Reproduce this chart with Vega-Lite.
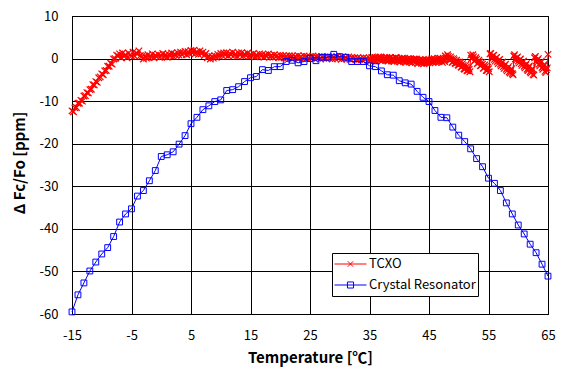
{
  "$schema": "https://vega.github.io/schema/vega-lite/v6.json",
  "width": 476,
  "height": 298,
  "autosize": "none",
  "padding": {"left": 72, "top": 16, "right": 19, "bottom": 63},
  "background": "white",
  "config": {
    "font": "Noto Sans CJK KR",
    "view": {"stroke": "#000000", "strokeWidth": 1},
    "axis": {
      "grid": true, "gridColor": "#000000", "gridOpacity": 1, "gridWidth": 1,
      "domainColor": "#000000", "domainWidth": 1, "ticks": false, "tickSize": 0,
      "labelColor": "#000000", "labelFontSize": 13, "labelFont": "Noto Sans CJK KR",
      "labelExpr": "datum.value < 0 ? '-' + abs(datum.value) : '' + datum.value",
      "titleColor": "#000000", "titleFontSize": 15, "titleFontWeight": "bold", "titleFont": "Noto Sans CJK KR"
    }
  },
  "datasets": {
    "tcxo": [
      {"t":-15,"v":-12.3},{"t":-14.75,"v":-12.5},{"t":-14.5,"v":-11.6},{"t":-14.25,"v":-11.5},{"t":-14,"v":-10.5},{"t":-13.75,"v":-10.5},{"t":-13.5,"v":-9.8},{"t":-13.25,"v":-10.0},{"t":-13,"v":-8.8},{"t":-12.75,"v":-8.7},{"t":-12.5,"v":-8.0},{"t":-12.25,"v":-8.1},{"t":-12,"v":-7.3},{"t":-11.75,"v":-7.2},{"t":-11.5,"v":-6.1},{"t":-11.25,"v":-6.2},{"t":-11,"v":-5.4},{"t":-10.75,"v":-5.6},{"t":-10.5,"v":-4.5},{"t":-10.25,"v":-4.3},{"t":-10,"v":-3.6},{"t":-9.75,"v":-3.8},{"t":-9.5,"v":-2.9},{"t":-9.25,"v":-2.8},{"t":-9,"v":-1.8},{"t":-8.75,"v":-1.8},{"t":-8.5,"v":-1.1},{"t":-8.25,"v":-1.3},{"t":-8,"v":-0.1},{"t":-7.75,"v":0.0},{"t":-7.5,"v":0.8},{"t":-7.25,"v":0.6},
      {"t":-7,"v":1.1},{"t":-6.75,"v":0.2},{"t":-6.5,"v":1.3},{"t":-6.25,"v":0.5},{"t":-6,"v":0.9},{"t":-5.75,"v":0.2},{"t":-5.5,"v":1.3},{"t":-5.25,"v":0.8},{"t":-5,"v":0.6},{"t":-4.75,"v":1.5},{"t":-4.5,"v":0.6},{"t":-4.25,"v":1.3},{"t":-4,"v":1.1},{"t":-3.75,"v":1.8},{"t":-3.5,"v":0.7},{"t":-3.25,"v":0.5},
      {"t":-3,"v":-0.1},{"t":-2.75,"v":0.6},{"t":-2.5,"v":0.1},{"t":-2.25,"v":0.9},{"t":-2,"v":0.3},{"t":-1.75,"v":0.5},{"t":-1.5,"v":1.1},{"t":-1.25,"v":0.2},{"t":-1,"v":0.8},{"t":-0.75,"v":0.4},{"t":-0.5,"v":1.0},{"t":-0.25,"v":0.3},
      {"t":0,"v":0.7},{"t":0.25,"v":1.2},{"t":0.5,"v":0.4},{"t":0.75,"v":0.9},{"t":1,"v":0.3},{"t":1.25,"v":1.0},{"t":1.5,"v":0.6},{"t":1.75,"v":1.3},{"t":2,"v":0.5},{"t":2.25,"v":1.1},{"t":2.5,"v":0.7},{"t":2.75,"v":1.4},{"t":3,"v":0.8},{"t":3.25,"v":1.5},{"t":3.5,"v":0.9},{"t":3.75,"v":1.3},
      {"t":4,"v":1.7},{"t":4.25,"v":0.9},{"t":4.5,"v":1.6},{"t":4.75,"v":1.1},{"t":5,"v":1.9},{"t":5.25,"v":1.3},{"t":5.5,"v":2.0},{"t":5.75,"v":1.2},{"t":6,"v":1.6},{"t":6.25,"v":1.0},{"t":6.5,"v":1.8},{"t":6.75,"v":1.1},{"t":7,"v":1.5},{"t":7.25,"v":0.7},{"t":7.5,"v":1.2},{"t":7.75,"v":0.2},
      {"t":8,"v":0.6},{"t":8.25,"v":-0.1},{"t":8.5,"v":0.5},{"t":8.75,"v":0.1},{"t":9,"v":0.7},{"t":9.25,"v":0.3},{"t":9.5,"v":1.0},{"t":9.75,"v":0.5},{"t":10,"v":1.2},{"t":10.25,"v":0.7},{"t":10.5,"v":1.3},{"t":10.75,"v":0.8},{"t":11,"v":1.4},{"t":11.25,"v":0.6},{"t":11.5,"v":1.2},{"t":11.75,"v":0.9},
      {"t":12,"v":1.5},{"t":12.25,"v":0.7},{"t":12.5,"v":1.1},{"t":12.75,"v":0.5},{"t":13,"v":1.3},{"t":13.25,"v":0.8},{"t":13.5,"v":1.4},{"t":13.75,"v":0.6},{"t":14,"v":1.1},{"t":14.25,"v":0.7},{"t":14.5,"v":1.3},{"t":14.75,"v":0.5},{"t":15,"v":1.0},{"t":15.25,"v":0.6},{"t":15.5,"v":1.2},{"t":15.75,"v":0.4},
      {"t":16,"v":0.9},{"t":16.25,"v":0.5},{"t":16.5,"v":1.1},{"t":16.75,"v":0.6},{"t":17,"v":1.0},{"t":17.25,"v":0.3},{"t":17.5,"v":0.9},{"t":17.75,"v":0.5},{"t":18,"v":1.1},{"t":18.25,"v":0.4},{"t":18.5,"v":0.8},{"t":18.75,"v":0.3},{"t":19,"v":0.9},{"t":19.25,"v":0.4},{"t":19.5,"v":0.7},{"t":19.75,"v":0.2},
      {"t":20,"v":0.8},{"t":20.25,"v":0.3},{"t":20.5,"v":0.7},{"t":20.75,"v":0.2},{"t":21,"v":0.6},{"t":21.25,"v":0.1},{"t":21.5,"v":0.7},{"t":21.75,"v":0.3},{"t":22,"v":0.6},{"t":22.25,"v":0.1},{"t":22.5,"v":0.5},{"t":22.75,"v":0.2},{"t":23,"v":0.7},{"t":23.25,"v":0.1},{"t":23.5,"v":0.5},{"t":23.75,"v":0.0},
      {"t":24,"v":0.6},{"t":24.25,"v":0.2},{"t":24.5,"v":0.5},{"t":24.75,"v":0.0},{"t":25,"v":0.4},{"t":25.25,"v":0.1},{"t":25.5,"v":0.6},{"t":25.75,"v":0.0},{"t":26,"v":0.5},{"t":26.25,"v":0.2},{"t":26.5,"v":0.4},{"t":26.75,"v":-0.1},{"t":27,"v":0.5},{"t":27.25,"v":0.1},{"t":27.5,"v":0.4},{"t":27.75,"v":0.0},
      {"t":28,"v":0.5},{"t":28.25,"v":0.1},{"t":28.5,"v":0.3},{"t":28.75,"v":-0.1},{"t":29,"v":0.4},{"t":29.25,"v":0.0},{"t":29.5,"v":0.5},{"t":29.75,"v":0.1},{"t":30,"v":0.3},{"t":30.25,"v":-0.2},{"t":30.5,"v":0.4},{"t":30.75,"v":0.0},{"t":31,"v":0.3},{"t":31.25,"v":-0.1},{"t":31.5,"v":0.4},{"t":31.75,"v":-0.2},
      {"t":32,"v":0.3},{"t":32.25,"v":0.0},{"t":32.5,"v":0.2},{"t":32.75,"v":-0.3},{"t":33,"v":0.2},{"t":33.25,"v":-0.2},{"t":33.5,"v":0.1},{"t":33.75,"v":-0.3},{"t":34,"v":0.2},{"t":34.25,"v":-0.2},{"t":34.5,"v":0.1},{"t":34.75,"v":-0.4},{"t":35,"v":0.1},{"t":35.25,"v":-0.3},{"t":35.5,"v":0.0},{"t":35.75,"v":-0.5},
      {"t":36,"v":0.3},{"t":36.25,"v":-0.2},{"t":36.5,"v":0.4},{"t":36.75,"v":-0.4},{"t":37,"v":0.2},{"t":37.25,"v":-0.3},{"t":37.5,"v":0.3},{"t":37.75,"v":-0.5},{"t":38,"v":0.1},{"t":38.25,"v":-0.4},{"t":38.5,"v":0.2},{"t":38.75,"v":-0.6},{"t":39,"v":0.0},{"t":39.25,"v":-0.3},{"t":39.5,"v":0.2},{"t":39.75,"v":-0.6},
      {"t":40,"v":-0.1},{"t":40.25,"v":-0.5},{"t":40.5,"v":0.1},{"t":40.75,"v":-0.7},{"t":41,"v":-0.2},{"t":41.25,"v":-0.6},{"t":41.5,"v":0.0},{"t":41.75,"v":-0.8},{"t":42,"v":-0.2},{"t":42.25,"v":-0.5},{"t":42.5,"v":-0.1},{"t":42.75,"v":-0.9},{"t":43,"v":-0.3},{"t":43.25,"v":-0.8},{"t":43.5,"v":-0.2},{"t":43.75,"v":-1.1},
      {"t":44,"v":-0.5},{"t":44.25,"v":-1.0},{"t":44.5,"v":-0.3},{"t":44.75,"v":-0.9},{"t":45,"v":-0.2},{"t":45.25,"v":-0.7},{"t":45.5,"v":0.0},{"t":45.75,"v":-0.8},{"t":46,"v":-0.3},{"t":46.25,"v":-0.6},{"t":46.5,"v":0.1},{"t":46.75,"v":-0.5},{"t":47,"v":-0.2},{"t":47.25,"v":-0.9},{"t":47.5,"v":-0.1},{"t":47.75,"v":0.6},
      {"t":48,"v":0.1},{"t":48.25,"v":0.5},{"t":48.5,"v":-0.4},{"t":48.75,"v":0.0},{"t":49,"v":-0.8},{"t":49.25,"v":-0.3},{"t":49.5,"v":-1.2},{"t":49.75,"v":-0.8},{"t":50,"v":-1.6},{"t":50.25,"v":-1.1},{"t":50.5,"v":-2.0},{"t":50.75,"v":-1.6},{"t":51,"v":-2.5},{"t":51.25,"v":-2.0},{"t":51.5,"v":-2.9},{"t":51.75,"v":-2.5},
      {"t":52,"v":0.8},{"t":52.25,"v":0.2},{"t":52.5,"v":0.4},{"t":52.75,"v":-0.4},{"t":53,"v":-0.2},{"t":53.25,"v":-1.0},{"t":53.5,"v":-0.8},{"t":53.75,"v":-1.6},{"t":54,"v":-1.3},{"t":54.25,"v":-2.2},{"t":54.5,"v":-1.9},{"t":54.75,"v":-2.8},{"t":55,"v":-2.4},
      {"t":55.25,"v":1.1},{"t":55.5,"v":0.4},{"t":55.75,"v":0.6},{"t":56,"v":-0.2},{"t":56.25,"v":0.1},{"t":56.5,"v":-0.7},{"t":56.75,"v":-0.4},{"t":57,"v":-1.3},{"t":57.25,"v":-1.0},{"t":57.5,"v":-1.9},{"t":57.75,"v":-1.6},{"t":58,"v":-2.5},{"t":58.25,"v":-2.2},{"t":58.5,"v":-3.1},{"t":58.75,"v":-2.7},{"t":59,"v":-3.5},
      {"t":59.25,"v":0.6},{"t":59.5,"v":-0.1},{"t":59.75,"v":0.2},{"t":60,"v":-0.6},{"t":60.25,"v":-0.3},{"t":60.5,"v":-1.2},{"t":60.75,"v":-0.9},{"t":61,"v":-1.8},{"t":61.25,"v":-1.5},{"t":61.5,"v":-2.5},{"t":61.75,"v":-2.1},{"t":62,"v":-3.1},{"t":62.25,"v":-2.7},{"t":62.5,"v":-3.7},
      {"t":62.75,"v":0.2},{"t":63,"v":-0.6},{"t":63.25,"v":-0.3},{"t":63.5,"v":-1.3},{"t":63.75,"v":-1.0},{"t":64,"v":-2.1},{"t":64.25,"v":-1.8},{"t":64.5,"v":-3.0},{"t":64.75,"v":-2.6},{"t":65,"v":1.0},
      {"t":35.125,"v":-0.5},{"t":35.375,"v":0.3},{"t":35.625,"v":-0.3},{"t":35.875,"v":0.2},{"t":36.125,"v":-0.6},{"t":36.375,"v":0.1},{"t":36.625,"v":-0.1},{"t":36.875,"v":0.4},{"t":37.125,"v":-0.5},{"t":37.375,"v":0.0},{"t":37.625,"v":-0.2},{"t":37.875,"v":0.3},{"t":38.125,"v":-0.6},{"t":38.375,"v":0.2},{"t":38.625,"v":-0.3},{"t":38.875,"v":0.1},{"t":39.125,"v":-0.7},{"t":39.375,"v":0.3},{"t":39.625,"v":-0.4},{"t":39.875,"v":0.0},
      {"t":40.125,"v":-0.8},{"t":40.375,"v":0.0},{"t":40.625,"v":-0.5},{"t":40.875,"v":0.1},{"t":41.125,"v":-0.9},{"t":41.375,"v":-0.1},{"t":41.625,"v":-0.6},{"t":41.875,"v":0.0},{"t":42.125,"v":-1.0},{"t":42.375,"v":-0.2},{"t":42.625,"v":-0.6},{"t":42.875,"v":-0.1},{"t":43.125,"v":-1.2},{"t":43.375,"v":-0.4},{"t":43.625,"v":-0.9},{"t":43.875,"v":-0.3},
      {"t":44.125,"v":-1.2},{"t":44.375,"v":-0.6},{"t":44.625,"v":-1.1},{"t":44.875,"v":-0.4},{"t":45.125,"v":-1.0},{"t":45.375,"v":-0.3},{"t":45.625,"v":-0.9},{"t":45.875,"v":0.0},{"t":46.125,"v":-0.9},{"t":46.375,"v":-0.2},{"t":46.625,"v":-0.7},{"t":46.875,"v":0.1},{"t":47.125,"v":-0.6},{"t":47.375,"v":-0.3},{"t":47.625,"v":-0.7},
      {"t":47.875,"v":-0.1},{"t":48.125,"v":0.9},{"t":48.375,"v":-0.2},{"t":48.625,"v":0.4},{"t":48.875,"v":-0.9},{"t":49.125,"v":0.0},{"t":49.375,"v":-1.1},{"t":49.625,"v":-0.4},{"t":49.875,"v":-1.5},{"t":50.125,"v":-0.8},{"t":50.375,"v":-2.0},{"t":50.625,"v":-1.2},{"t":50.875,"v":-2.4},{"t":51.125,"v":-1.6},{"t":51.375,"v":-2.8},{"t":51.625,"v":-2.1},{"t":51.875,"v":-3.1},
      {"t":52.125,"v":0.0},{"t":52.375,"v":0.9},{"t":52.625,"v":-0.6},{"t":52.875,"v":0.2},{"t":53.125,"v":-1.2},{"t":53.375,"v":-0.4},{"t":53.625,"v":-1.7},{"t":53.875,"v":-0.9},{"t":54.125,"v":-2.3},{"t":54.375,"v":-1.5},{"t":54.625,"v":-2.8},{"t":54.875,"v":-2.0},{"t":55.125,"v":-3.1},
      {"t":55.375,"v":1.2},{"t":55.625,"v":0.0},{"t":55.875,"v":0.8},{"t":56.125,"v":-0.6},{"t":56.375,"v":0.3},{"t":56.625,"v":-1.2},{"t":56.875,"v":-0.2},{"t":57.125,"v":-1.7},{"t":57.375,"v":-0.8},{"t":57.625,"v":-2.3},{"t":57.875,"v":-1.3},{"t":58.125,"v":-2.9},{"t":58.375,"v":-1.9},{"t":58.625,"v":-3.4},{"t":58.875,"v":-2.4},{"t":59.125,"v":-3.8},
      {"t":59.375,"v":0.9},{"t":59.625,"v":-0.5},{"t":59.875,"v":0.4},{"t":60.125,"v":-1.0},{"t":60.375,"v":-0.1},{"t":60.625,"v":-1.6},{"t":60.875,"v":-0.6},{"t":61.125,"v":-2.2},{"t":61.375,"v":-1.2},{"t":61.625,"v":-2.8},{"t":61.875,"v":-1.7},{"t":62.125,"v":-3.4},{"t":62.375,"v":-2.4},{"t":62.625,"v":-3.9},
      {"t":62.875,"v":0.5},{"t":63.125,"v":-1.0},{"t":63.375,"v":0.0},{"t":63.625,"v":-1.7},{"t":63.875,"v":-0.6},{"t":64.125,"v":-2.5},{"t":64.375,"v":-1.4},{"t":64.625,"v":-3.3},{"t":64.875,"v":-2.2}
    ],
    "xtal": [
      {"t":-15,"v":-59.5},{"t":-14,"v":-55.5},{"t":-13,"v":-52.7},{"t":-12,"v":-49.9},{"t":-11,"v":-47.8},{"t":-10,"v":-45.9},{"t":-9,"v":-44.4},{"t":-8,"v":-41.8},{"t":-7,"v":-38.4},{"t":-6,"v":-36.5},
      {"t":-5,"v":-35.3},{"t":-4,"v":-32.3},{"t":-3,"v":-31.0},{"t":-2,"v":-28.7},{"t":-1,"v":-26.3},{"t":0,"v":-23.0},{"t":1,"v":-22.6},{"t":2,"v":-21.9},{"t":3,"v":-20.1},{"t":4,"v":-18.1},
      {"t":5,"v":-15.3},{"t":6,"v":-13.8},{"t":7,"v":-12.0},{"t":8,"v":-11.1},{"t":9,"v":-10.1},{"t":10,"v":-9.7},{"t":11,"v":-7.5},{"t":12,"v":-7.3},{"t":13,"v":-6.6},{"t":14,"v":-5.4},
      {"t":15,"v":-4.5},{"t":16,"v":-4.2},{"t":17,"v":-2.6},{"t":18,"v":-2.8},{"t":19,"v":-1.9},{"t":20,"v":-1.9},{"t":21,"v":-0.7},{"t":22,"v":-0.4},{"t":23,"v":-1.0},{"t":24,"v":-0.7},
      {"t":25,"v":0.0},{"t":26,"v":-0.5},{"t":27,"v":0.3},{"t":28,"v":0.3},{"t":29,"v":1.0},{"t":30,"v":0.45},{"t":31,"v":0.3},{"t":32,"v":-0.7},{"t":33,"v":-0.7},{"t":34,"v":-0.7},
      {"t":35,"v":-1.7},{"t":36,"v":-1.9},{"t":37,"v":-2.9},{"t":38,"v":-3.8},{"t":39,"v":-3.9},{"t":40,"v":-5.2},{"t":41,"v":-5.7},{"t":42,"v":-6.0},{"t":43,"v":-7.7},{"t":44,"v":-9.1},
      {"t":45,"v":-10.1},{"t":46,"v":-12.2},{"t":47,"v":-13.8},{"t":48,"v":-13.9},{"t":49,"v":-16.1},{"t":50,"v":-18.0},{"t":51,"v":-19.5},{"t":52,"v":-21.2},{"t":53,"v":-23.5},{"t":54,"v":-25.4},
      {"t":55,"v":-28.1},{"t":56,"v":-29.3},{"t":57,"v":-31.0},{"t":58,"v":-33.9},{"t":59,"v":-36.5},{"t":60,"v":-39.1},{"t":61,"v":-41.2},{"t":62,"v":-43.6},{"t":63,"v":-45.6},{"t":64,"v":-48.3},
      {"t":65,"v":-51.1}
    ]
  },
  "encoding": {
    "x": {
      "field": "t", "type": "quantitative",
      "scale": {"domain": [-15, 65], "nice": false, "zero": false},
      "axis": {
        "values": [-15, -5, 5, 15, 25, 35, 45, 55, 65],
        "title": "Temperature [℃]",
        "labelFlush": false, "labelPadding": 25, "labelBaseline": "alphabetic",
        "titleX": 238, "titleY": 48.5, "titleBaseline": "alphabetic", "titleAlign": "center"
      }
    },
    "y": {
      "field": "v", "type": "quantitative",
      "scale": {"domain": [-60, 10], "nice": false, "zero": false},
      "axis": {
        "values": [-60, -50, -40, -30, -20, -10, 0, 10],
        "title": "Δ Fc/Fo [ppm]",
        "labelFlush": false, "labelPadding": 14,
        "titleX": -48, "titleY": 146.5, "titleBaseline": "alphabetic", "titleAlign": "center", "titleAngle": 270
      }
    }
  },
  "layer": [
    {
      "data": {"name": "tcxo"},
      "mark": {"type": "line", "strokeWidth": 1},
      "encoding": {
        "color": {
          "datum": "TCXO", "type": "nominal",
          "scale": {"domain": ["TCXO", "Crystal Resonator"], "range": ["#ff0000", "#0000ff"]},
          "legend": {
            "title": null, "orient": "none", "legendX": 260, "legendY": 237,
            "padding": 2, "strokeColor": "#000000", "fillColor": "#ffffff",
            "labelFontSize": 13, "labelColor": "#000000", "labelFont": "Noto Sans CJK KR", "labelOffset": 2,
            "symbolSize": 1024, "symbolStrokeWidth": 1,
            "clipHeight": 18, "rowPadding": 3,
            "encode": {
              "symbols": {
                "update": {
                  "shape": {"signal": "datum.value === 'TCXO' ? 'M-1,0H1M-0.17,-0.17L0.17,0.17M-0.17,0.17L0.17,-0.17' : 'M-1,0H1M-0.19,-0.19H0.19V0.19H-0.19Z'"},
                  "fill": {"value": "transparent"},
                  "size": {"value": 1024},
                  "strokeWidth": {"value": 1}
                }
              }
            }
          }
        }
      }
    },
    {
      "data": {"name": "tcxo"},
      "mark": {"type": "point", "shape": "M-1,-1L1,1M-1,1L1,-1", "size": 42, "filled": false, "strokeWidth": 1.2, "opacity": 1},
      "encoding": {"color": {"datum": "TCXO", "type": "nominal"}}
    },
    {
      "data": {"name": "xtal"},
      "mark": {"type": "line", "strokeWidth": 1},
      "encoding": {"color": {"datum": "Crystal Resonator", "type": "nominal"}}
    },
    {
      "data": {"name": "xtal"},
      "mark": {"type": "point", "shape": "square", "size": 34, "filled": false, "strokeWidth": 1, "opacity": 1},
      "encoding": {"color": {"datum": "Crystal Resonator", "type": "nominal"}}
    }
  ]
}
